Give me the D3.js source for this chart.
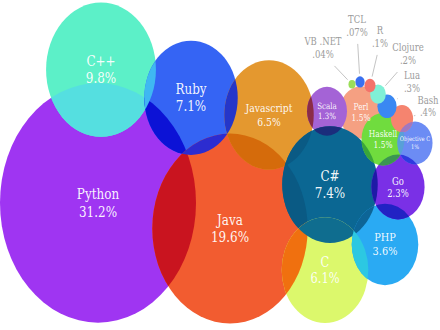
<!DOCTYPE html>
<html><head><meta charset="utf-8">
<script src="https://cdn.jsdelivr.net/npm/d3@7"></script>
<style>html,body{margin:0;padding:0;background:#fff;overflow:hidden}svg{display:block}</style>
</head><body><svg id="chart" width="440" height="330"></svg>
<script>
// ---- data ----
const languages = ["Python","C++","Ruby","Java","Javascript","Perl","Scala","C#","C","PHP","Go","Haskell","Objective C","Bash","Lua","Clojure","R","TCL","VB .NET"];
const shares    = [31.2, 9.8, 7.1, 19.6, 6.5, 1.5, 1.3, 7.4, 6.1, 3.6, 2.3, 1.5, 1, 0.4, 0.3, 0.2, 0.1, 0.07, 0.04];
// bubble layout (layout units)
const layoutX   = [98, 101, 191, 230, 269, 361, 327, 330, 325, 385, 398, 383, 415, 402, 387, 378, 370, 360, 352];
const layoutY   = [166, 57, 80, 187, 94, 92, 91, 151, 221, 200, 153, 114, 117, 97, 87, 77, 70, 67, 69];
const palette   = ["#9f35f2","#5cf0c8","#3564f4","#f25c30","#e4982f","#f5a082","#a463d6","#0b6793","#dcf86c","#2aaaf3","#7a30e6","#70dc3e","#6c8cf4","#f5846f","#3a88f2","#80f0d6","#f4726a","#3a70f0","#9ade58"];
// callouts for the smallest bubbles
const calloutNames = ["VB .NET","TCL","R","Clojure","Lua","Bash"];
const calloutX     = [323, 357, 380, 408, 412, 428];
const calloutY     = [39, 21, 30, 44, 67, 87];
// overlap colours: [upper bubble, lower bubble, colour]
const blends = [
  ["C++","Python","#55dfe0"],
  ["Ruby","Python","#0c12d6"],
  ["Ruby","C++","#3fb8f2"],
  ["Java","Python","#c9141f"],
  ["Java","Ruby","#2c2cd0"],
  ["Javascript","Ruby","#2536c9"],
  ["Javascript","Java","#d56b0b"],
  ["Scala","Javascript","#8b2c47"],
  ["C#","Javascript","#0a5a84"],
  ["C#","Java","#0a5a84"],
  ["C#","Scala","#1b2d7c"],
  ["C","Java","#f0700f"],
  ["C","C#","#0f6d8f"],
  ["PHP","C#","#0d6597"],
  ["PHP","C","#2cc8e2"],
  ["Go","C#","#1e1aa6"],
  ["Go","PHP","#2222c4"],
  ["Haskell","C#","#3aa53a"],
  ["Haskell","Go","#3b9552"],
  ["Objective C","Haskell","#58a0d8"],
  ["Objective C","Go","#2e3ae0"],
  ["Bash","Objective C","#a078c0"]
];

// ---- scales ----
const W = 440, H = 330;
const x = d3.scaleLinear().domain([0, 440]).range([0, W]);
const y = d3.scaleLinear().domain([0, 270]).range([0, H]);
const r = d3.scaleSqrt().domain([0, 31.2]).range([0, 98]);
const sx = x(1) - x(0), sy = y(1) - y(0), stretch = sy / sx;
const color = d3.scaleOrdinal(languages, palette);
const fsScale = d3.scaleSqrt().domain([17.5, 47]).range([6.5, 12]).clamp(true);
const fmt = v => (v < 1 ? String(v).replace(/^0/, "") : String(v)) + "%";
const FONT = "'DejaVu Serif', serif";

const nodes = languages.map((name, i) => ({
  name, value: shares[i], i,
  cx: x(layoutX[i]), cy: y(layoutY[i]),
  rx: r(shares[i]) * sx, ry: r(shares[i]) * sy
}));
const byName = new Map(nodes.map(n => [n.name, n]));

const svg = d3.select("#chart");
svg.append("rect").attr("width", W).attr("height", H).attr("fill", "#fff");
const defs = svg.append("defs");
nodes.forEach(n => {
  defs.append("clipPath").attr("id", "clip-" + n.i)
    .append("ellipse").attr("cx", n.cx).attr("cy", n.cy).attr("rx", n.rx).attr("ry", n.ry);
});

const gB = svg.append("g");
nodes.forEach(n => {
  gB.append("ellipse").attr("cx", n.cx).attr("cy", n.cy).attr("rx", n.rx).attr("ry", n.ry)
    .attr("fill", color(n.name));
  blends.filter(b => b[0] === n.name).forEach(([a, b, c]) => {
    const lower = byName.get(b);
    gB.append("ellipse").attr("cx", n.cx).attr("cy", n.cy).attr("rx", n.rx).attr("ry", n.ry)
      .attr("fill", c).attr("clip-path", `url(#clip-${lower.i})`);
  });
});

// ---- inner labels ----
const gL = svg.append("g").attr("font-family", FONT).attr("text-anchor", "middle");
nodes.filter(n => n.value >= 1).forEach(n => {
  const g = gL.append("g").attr("transform", `translate(${n.cx},${n.cy}) scale(1,${stretch})`);
  let fs = fsScale(n.rx);
  const t1 = g.append("text").attr("dy", "-0.6em").attr("dominant-baseline", "central")
    .attr("fill", "#fff").attr("fill-opacity", 0.95).attr("font-size", fs).text(n.name);
  const t2 = g.append("text").attr("dy", "0.6em").attr("dominant-baseline", "central")
    .attr("fill", "#fff").attr("fill-opacity", 0.95).attr("font-size", fs).text(fmt(n.value));
  const maxW = 0.6 * n.rx + 20;
  const w = Math.max(t1.node().getComputedTextLength(), t2.node().getComputedTextLength());
  if (w > maxW) { fs = fs * maxW / w; t1.attr("font-size", fs); t2.attr("font-size", fs); }
});

// ---- callouts ----
const gC = svg.append("g").attr("font-family", FONT).attr("text-anchor", "middle");
calloutNames.forEach((name, k) => {
  const n = byName.get(name);
  const lx = x(calloutX[k]), ly = y(calloutY[k]);
  const g = gC.append("g").attr("transform", `translate(${lx},${ly}) scale(1,${stretch})`);
  g.append("text").attr("dy", "-0.6em").attr("dominant-baseline", "central")
    .attr("fill", "#9b9b9b").attr("font-size", 8.5).text(name);
  const tv = g.append("text").attr("dy", "0.6em").attr("dominant-baseline", "central")
    .attr("fill", "#9b9b9b").attr("font-size", 8.5).text(fmt(n.value));
  const bb = tv.node().getBBox();
  const bcx = lx + bb.x + bb.width / 2, bcy = ly + (bb.y + bb.height / 2) * stretch;
  const hw = bb.width / 2 + 6, hh = bb.height * stretch / 2 + 6;
  const dx = bcx - n.cx, dy = bcy - n.cy;
  const len = Math.hypot(dx, dy), ux = dx / len, uy = dy / len;
  const te = 1 / Math.sqrt((dx / n.rx) ** 2 + (dy / n.ry) ** 2);
  const x1 = n.cx + dx * te + ux * 2.5, y1 = n.cy + dy * te + uy * 2.5;
  const tb = Math.min(hw / Math.abs(dx || 1e-6), hh / Math.abs(dy || 1e-6));
  const x2 = bcx - dx * tb, y2 = bcy - dy * tb;
  gC.append("line").attr("x1", x1).attr("y1", y1).attr("x2", x2).attr("y2", y2)
    .attr("stroke", "#c4c4c4").attr("stroke-width", 1);
});
</script></body></html>
